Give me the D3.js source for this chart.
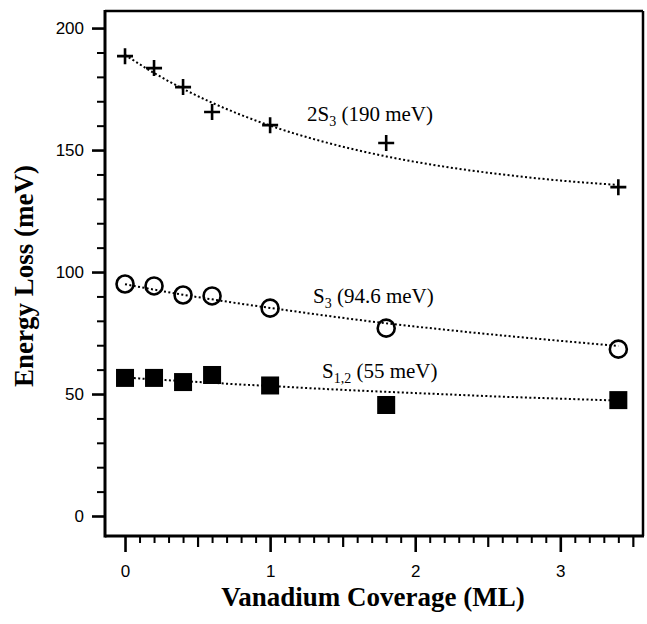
<!DOCTYPE html>
<html>
<head>
<meta charset="utf-8">
<script src="https://cdn.jsdelivr.net/npm/d3@7"></script>
<style>
  body { margin: 0; background: #fff; }
  text { fill: #000; }
</style>
</head>
<body>
<div id="chart"></div>
<script>
var w = 647, h = 624;

// measured points (coverage in ML, energy loss in meV)
var coverage = [0, 0.2, 0.4, 0.6, 1.0, 1.8, 3.4];
var loss2S3  = [188.5, 183.6, 175.8, 165.6, 160.2, 152.9, 134.8];
var lossS3   = [95.1, 94.3, 90.6, 90.2, 85.2, 77.0, 68.4];
var lossS12  = [56.6, 56.6, 54.9, 57.8, 53.5, 45.5, 47.5];

// dotted fit curves
var fitX    = [0, 0.2, 0.4, 0.6, 0.8, 1.0, 1.4, 1.8, 2.2, 2.6, 3.0, 3.4];
var fit2S3  = [189.0, 181.6, 175.1, 169.4, 164.4, 160.0, 152.9, 147.4, 143.2, 140.0, 137.5, 135.7];
var fitS3   = [95.0, 92.8, 90.7, 88.8, 87.0, 85.3, 82.0, 79.0, 76.4, 74.0, 71.8, 69.7];
var fitS12  = [56.8, 56.0, 55.3, 54.6, 53.9, 53.3, 52.0, 50.9, 49.9, 48.9, 48.1, 47.3];

var xMajor = [0, 1, 2, 3];
var yMajor = [0, 50, 100, 150, 200];

var svg = d3.select("#chart").append("svg")
    .attr("width", w)
    .attr("height", h);

var pLeft = 105, pRight = 643, pTop = 11, pBottom = 536;

var x = d3.scaleLinear().domain([-0.138, 3.57]).range([pLeft, pRight]);
var y = d3.scaleLinear().domain([-8.2, 207]).range([pBottom, pTop]);

// ticks
var xMinor = d3.range(1, 36).map(function(d) { return d / 10; })
    .filter(function(d) { return Math.abs(d * 2 - Math.round(d * 2)) > 1e-6; });
var xHalf = [0.5, 1.5, 2.5, 3.5];
var yMinor = d3.range(10, 200, 10).filter(function(d) { return d % 50 !== 0; });

function tickAxis(axis, vals, size, sw, pos) {
  var g = svg.append("g")
      .attr("transform", pos)
      .call(axis.tickValues(vals).tickSize(size).tickSizeOuter(0).tickFormat(""));
  g.select(".domain").remove();
  g.selectAll("line").attr("stroke", "#000").attr("stroke-width", sw);
  return g;
}

tickAxis(d3.axisBottom(x), xMinor, 7, 2, "translate(0," + pBottom + ")");
tickAxis(d3.axisBottom(x), xHalf, 11, 2.2, "translate(0," + pBottom + ")");
var gx = tickAxis(d3.axisBottom(x), xMajor, 16, 2.6, "translate(0," + pBottom + ")");
tickAxis(d3.axisLeft(y), yMinor, 8, 2, "translate(" + pLeft + ",0)");
var gy = tickAxis(d3.axisLeft(y), yMajor, 13, 2.6, "translate(" + pLeft + ",0)");

gx.selectAll(".tick text")
    .text(function(d) { return d; })
    .attr("y", 29)
    .attr("dy", "0.71em")
    .style("font-family", "'Liberation Sans', Arial, sans-serif")
    .style("font-size", "17px");
gy.selectAll(".tick text")
    .text(function(d) { return d; })
    .attr("x", -21)
    .style("font-family", "'Liberation Sans', Arial, sans-serif")
    .style("font-size", "17px");

// frame
svg.append("line").attr("x1", pLeft).attr("x2", pRight).attr("y1", pTop).attr("y2", pTop)
    .attr("stroke", "#000").attr("stroke-width", 2.5);
svg.append("line").attr("x1", pRight).attr("x2", pRight).attr("y1", pTop).attr("y2", pBottom)
    .attr("stroke", "#000").attr("stroke-width", 2.5);
svg.append("line").attr("x1", pLeft).attr("x2", pRight + 1).attr("y1", pBottom).attr("y2", pBottom)
    .attr("stroke", "#000").attr("stroke-width", 3);
svg.append("line").attr("x1", pLeft).attr("x2", pLeft).attr("y1", pTop - 1).attr("y2", pBottom + 1.5)
    .attr("stroke", "#000").attr("stroke-width", 3);

// fit curves
var line = d3.line()
    .x(function(d) { return x(d[0]); })
    .y(function(d) { return y(d[1]); })
    .curve(d3.curveMonotoneX);

[fit2S3, fitS3, fitS12].forEach(function(fit) {
  svg.append("path")
      .datum(fitX.map(function(v, i) { return [v, fit[i]]; }))
      .attr("fill", "none")
      .attr("stroke", "#000")
      .attr("stroke-width", 2)
      .attr("stroke-dasharray", "2,2.4")
      .attr("d", line);
});

// markers
var crosses = svg.append("g");
coverage.forEach(function(c, i) {
  var cx = x(c), cy = y(loss2S3[i]);
  crosses.append("path")
      .attr("d", "M" + (cx - 8) + "," + cy + "H" + (cx + 8) + "M" + cx + "," + (cy - 8) + "V" + (cy + 8))
      .attr("stroke", "#000")
      .attr("stroke-width", 2.6);
});

svg.append("g").selectAll("circle")
    .data(coverage)
    .join("circle")
    .attr("cx", function(d) { return x(d); })
    .attr("cy", function(d, i) { return y(lossS3[i]); })
    .attr("r", 8.5)
    .attr("fill", "none")
    .attr("stroke", "#000")
    .attr("stroke-width", 2.6);

svg.append("g").selectAll("rect")
    .data(coverage)
    .join("rect")
    .attr("x", function(d) { return x(d) - 9; })
    .attr("y", function(d, i) { return y(lossS12[i]) - 9; })
    .attr("width", 18)
    .attr("height", 18)
    .attr("fill", "#000");

// curve labels
function label(px, py, pre, sub, post) {
  var t = svg.append("text")
      .attr("x", px)
      .attr("y", py)
      .style("font-family", "'Liberation Serif', 'Times New Roman', serif")
      .style("font-size", "21px");
  t.append("tspan").text(pre);
  t.append("tspan").attr("dy", 5).style("font-size", "14px").text(sub);
  t.append("tspan").attr("dy", -5).text(post);
}
label(307, 121, "2S", "3", " (190 meV)");
label(313, 303, "S", "3", " (94.6 meV)");
label(322, 378, "S", "1,2", " (55 meV)");

// axis titles
svg.append("text")
    .attr("x", (pLeft + pRight) / 2 - 1)
    .attr("y", 606)
    .attr("text-anchor", "middle")
    .style("font-family", "'Liberation Serif', 'Times New Roman', serif")
    .style("font-weight", "bold")
    .style("font-size", "27px")
    .text("Vanadium Coverage (ML)");

svg.append("text")
    .attr("transform", "translate(33,276) rotate(-90)")
    .attr("text-anchor", "middle")
    .style("font-family", "'Liberation Serif', 'Times New Roman', serif")
    .style("font-weight", "bold")
    .style("font-size", "27px")
    .text("Energy Loss (meV)");
</script>
</body>
</html>
